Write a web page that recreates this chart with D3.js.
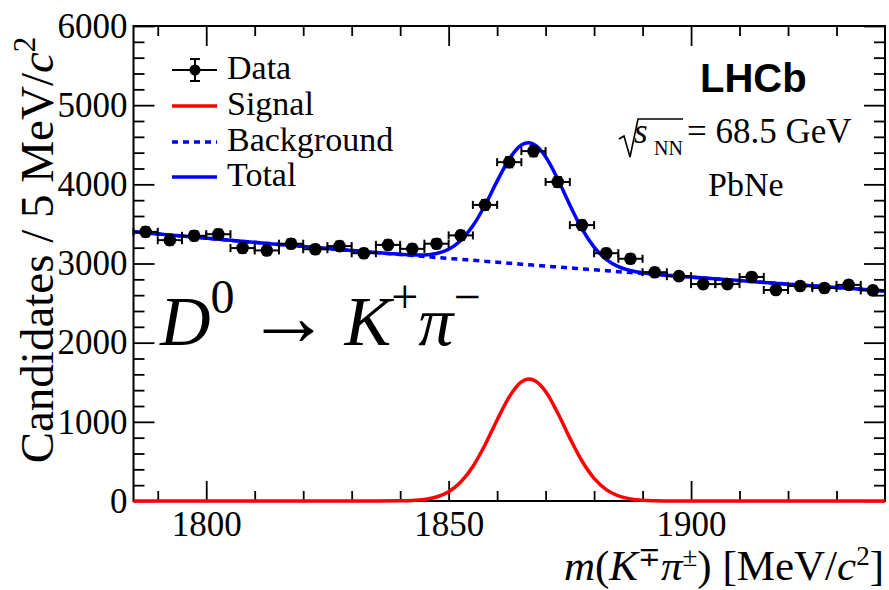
<!DOCTYPE html>
<html><head><meta charset="utf-8">
<script src="https://cdn.jsdelivr.net/npm/d3@7"></script>
<style>body{margin:0;background:#fff} svg{display:block}</style>
</head><body>
<svg id="chart" width="889" height="590"></svg>
<script>
// ---- data ----
const massBins = [1787.5,1792.5,1797.5,1802.5,1807.5,1812.5,1817.5,1822.5,1827.5,1832.5,1837.5,1842.5,1847.5,1852.5,1857.5,1862.5,1867.5,1872.5,1877.5,1882.5,1887.5,1892.5,1897.5,1902.5,1907.5,1912.5,1917.5,1922.5,1927.5,1932.5,1937.5];
const counts = [3400,3295,3350,3370,3195,3165,3250,3180,3220,3130,3235,3185,3250,3355,3740,4280,4420,4030,3485,3130,3060,2890,2840,2740,2740,2830,2665,2715,2690,2730,2660];
const countErrors = [58,57,58,58,57,56,57,56,57,56,57,56,57,58,61,65,66,63,59,56,55,54,53,52,52,53,52,52,52,52,52];
const binHalfWidth = 2.5;
const curveMass = [1785,1795,1805,1815,1825,1835,1840,1842.5,1845,1847.5,1850,1852.5,1855,1857.5,1860,1862.5,1865,1866.5,1868,1870,1872.5,1875,1877.5,1880,1882.5,1885,1887.5,1890,1892.5,1895,1900,1910,1920,1930,1940];
const signalValues = [0,0,0,0,0,0,2,7,19,50,116,239,436,708,1024,1315,1504,1540,1512,1382,1111,794,505,286,144,64,26,9,3,1,0,0,0,0,0];
const backgroundValues = [3400,3346,3293,3241,3189,3139,3114,3101,3089,3076,3064,3052,3040,3028,3016,3004,2992,2984,2977,2967,2956,2944,2932,2921,2909,2897,2886,2874,2863,2851,2828,2784,2739,2696,2653];
const xTickValues = [1800,1850,1900];
const yTickValues = [0,1000,2000,3000,4000,5000,6000];
const legendLabels = ["Data","Signal","Background","Total"];

// ---- layout ----
const svg = d3.select("#chart");
const P = {l:133.5, r:885, t:26, b:501};
const x = d3.scaleLinear().domain([1785,1940]).range([P.l,P.r]);
const y = d3.scaleLinear().domain([0,6000]).range([P.b,P.t]);
const serif = "'Liberation Serif','Times New Roman',serif";
const sans = "'Liberation Sans',Arial,sans-serif";
const BLUE = "#0000ff", RED = "#ff0000";

// frame
svg.append("rect").attr("x",P.l).attr("y",P.t).attr("width",P.r-P.l).attr("height",P.b-P.t)
  .attr("fill","none").attr("stroke","#000").attr("stroke-width",2);

const xMinor = d3.range(1790,1940,10).filter(v=>!xTickValues.includes(v));
const yMinor = d3.range(0,6001,200).filter(v=>!yTickValues.includes(v));

function styleAxis(g){
  g.select(".domain").remove();
  g.selectAll(".tick line").attr("stroke","#000").attr("stroke-width",1.8);
  g.selectAll("text").attr("font-family",serif).attr("font-size",35).attr("fill","#000");
}
// bottom
svg.append("g").attr("transform",`translate(0,${P.b})`)
  .call(d3.axisBottom(x).tickValues(xTickValues).tickSize(-20).tickPadding(10).tickFormat(d3.format("d"))).call(styleAxis);
svg.append("g").attr("transform",`translate(0,${P.b})`)
  .call(d3.axisBottom(x).tickValues(xMinor).tickSize(-10).tickFormat("")).call(styleAxis);
// top
svg.append("g").attr("transform",`translate(0,${P.t})`)
  .call(d3.axisTop(x).tickValues(xTickValues).tickSize(-20).tickFormat("")).call(styleAxis);
svg.append("g").attr("transform",`translate(0,${P.t})`)
  .call(d3.axisTop(x).tickValues(xMinor).tickSize(-10).tickFormat("")).call(styleAxis);
// left
svg.append("g").attr("transform",`translate(${P.l},0)`)
  .call(d3.axisLeft(y).tickValues(yTickValues).tickSize(-21).tickPadding(6).tickFormat(d3.format("d"))).call(styleAxis);
svg.append("g").attr("transform",`translate(${P.l},0)`)
  .call(d3.axisLeft(y).tickValues(yMinor).tickSize(-11).tickFormat("")).call(styleAxis);
// right
svg.append("g").attr("transform",`translate(${P.r},0)`)
  .call(d3.axisRight(y).tickValues(yTickValues).tickSize(-21).tickFormat("")).call(styleAxis);
svg.append("g").attr("transform",`translate(${P.r},0)`)
  .call(d3.axisRight(y).tickValues(yMinor).tickSize(-11).tickFormat("")).call(styleAxis);

// ---- curves ----
const curveData = curveMass.map((m,i)=>({m, s:signalValues[i], b:backgroundValues[i], t:signalValues[i]+backgroundValues[i]}));
const line = key => d3.line().x(d=>x(d.m)).y(d=>y(d[key])).curve(d3.curveMonotoneX);
svg.append("path").datum(curveData).attr("d",line("b")).attr("fill","none")
  .attr("stroke",BLUE).attr("stroke-width",3.5).attr("stroke-dasharray","6,5");
svg.append("path").datum(curveData).attr("d",line("t")).attr("fill","none")
  .attr("stroke",BLUE).attr("stroke-width",3.5);
svg.append("path").datum(curveData).attr("d",line("s")).attr("fill","none")
  .attr("stroke",RED).attr("stroke-width",3.5);

// ---- data points ----
const pts = massBins.map((m,i)=>({m, c:counts[i], e:countErrors[i]}));
const gp = svg.append("g").attr("stroke","#000").attr("stroke-width",2);
const cap = 4;
pts.forEach(d=>{
  const cx=x(d.m), cy=y(d.c);
  const x0=x(d.m-binHalfWidth), x1=x(d.m+binHalfWidth);
  const y0=y(d.c-d.e), y1=y(d.c+d.e);
  gp.append("line").attr("x1",x0).attr("x2",x1).attr("y1",cy).attr("y2",cy);
  gp.append("line").attr("x1",x0).attr("x2",x0).attr("y1",cy-cap).attr("y2",cy+cap);
  gp.append("line").attr("x1",x1).attr("x2",x1).attr("y1",cy-cap).attr("y2",cy+cap);
  gp.append("line").attr("x1",cx).attr("x2",cx).attr("y1",y0).attr("y2",y1);
  gp.append("line").attr("x1",cx-cap).attr("x2",cx+cap).attr("y1",y0).attr("y2",y0);
  gp.append("line").attr("x1",cx-cap).attr("x2",cx+cap).attr("y1",y1).attr("y2",y1);
});
svg.append("g").selectAll("circle").data(pts).join("circle")
  .attr("cx",d=>x(d.m)).attr("cy",d=>y(d.c)).attr("r",6.3).attr("fill","#000");

// ---- legend ----
const lg = svg.append("g");
const lx0=172, lx1=217, rowY=[70,106,142,177];
lg.append("line").attr("x1",lx0).attr("x2",lx1).attr("y1",rowY[0]).attr("y2",rowY[0]).attr("stroke","#000").attr("stroke-width",2);
lg.append("line").attr("x1",195).attr("x2",195).attr("y1",rowY[0]-11).attr("y2",rowY[0]+11).attr("stroke","#000").attr("stroke-width",2);
lg.append("line").attr("x1",190).attr("x2",200).attr("y1",rowY[0]-11).attr("y2",rowY[0]-11).attr("stroke","#000").attr("stroke-width",2);
lg.append("line").attr("x1",190).attr("x2",200).attr("y1",rowY[0]+11).attr("y2",rowY[0]+11).attr("stroke","#000").attr("stroke-width",2);
lg.append("circle").attr("cx",195).attr("cy",rowY[0]).attr("r",5.5).attr("fill","#000");
lg.append("line").attr("x1",lx0).attr("x2",lx1).attr("y1",rowY[1]).attr("y2",rowY[1]).attr("stroke",RED).attr("stroke-width",3.5);
lg.append("line").attr("x1",lx0).attr("x2",lx1).attr("y1",rowY[2]).attr("y2",rowY[2]).attr("stroke",BLUE).attr("stroke-width",3.5).attr("stroke-dasharray","6,5");
lg.append("line").attr("x1",lx0).attr("x2",lx1).attr("y1",rowY[3]).attr("y2",rowY[3]).attr("stroke",BLUE).attr("stroke-width",3.5);
legendLabels.forEach((t,i)=>{
  lg.append("text").attr("x",227).attr("y",rowY[i]+9).attr("font-family",serif).attr("font-size",34).text(t);
});

// ---- LHCb label ----
svg.append("text").attr("x",700).attr("y",92).attr("font-family",sans).attr("font-weight","bold").attr("font-size",40).text("LHCb");
svg.append("path").attr("d","M619,139 L624,136 L630,157 L638,119 L683,119").attr("fill","none").attr("stroke","#000").attr("stroke-width",1.6);
svg.append("text").attr("x",634).attr("y",143).attr("font-family",serif).attr("font-style","italic").attr("font-size",35).text("s");
svg.append("text").attr("x",654).attr("y",155).attr("font-family",serif).attr("font-size",20).text("NN");
svg.append("text").attr("x",687).attr("y",143).attr("font-family",serif).attr("font-size",35).text("= 68.5 GeV");
svg.append("text").attr("x",708).attr("y",196).attr("font-family",serif).attr("font-size",34).text("PbNe");

// ---- decay label ----
const dt = svg.append("text").attr("x",160).attr("y",345).attr("font-family",serif).attr("font-size",70);
dt.append("tspan").attr("font-style","italic").text("D");
dt.append("tspan").attr("font-size",48).attr("dy",-32).text("0");
dt.append("tspan").attr("dy",32).attr("dx",12).attr("font-size",84).text("\u2192");
dt.append("tspan").attr("dx",14).attr("font-style","italic").text("K");
dt.append("tspan").attr("font-size",48).attr("dy",-32).text("+");
dt.append("tspan").attr("font-style","italic").attr("dy",32).text("\u03c0");
dt.append("tspan").attr("font-size",48).attr("dy",-32).text("\u2212");

// ---- axis titles ----
const xt = svg.append("text").attr("x",884).attr("y",580).attr("text-anchor","end").attr("font-family",serif).attr("font-size",43);
xt.append("tspan").attr("font-style","italic").text("m");
xt.append("tspan").text("(");
xt.append("tspan").attr("font-style","italic").text("K");
xt.append("tspan").attr("font-size",27).attr("dy",-14).text("\u2213");
xt.append("tspan").attr("font-style","italic").attr("dy",14).text("\u03c0");
xt.append("tspan").attr("font-size",27).attr("dy",-14).text("\u00b1");
xt.append("tspan").attr("dy",14).text(") [MeV/");
xt.append("tspan").attr("font-style","italic").text("c");
xt.append("tspan").attr("font-size",27).attr("dy",-15).text("2");
xt.append("tspan").attr("dy",15).text("]");

const yt = svg.append("text").attr("transform","translate(53,250) rotate(-90)").attr("text-anchor","middle")
  .attr("font-family",serif).attr("font-size",47);
yt.append("tspan").text("Candidates / 5 MeV/");
yt.append("tspan").attr("font-style","italic").text("c");
yt.append("tspan").attr("font-size",31).attr("dy",-18).text("2");
</script>
</body></html>
